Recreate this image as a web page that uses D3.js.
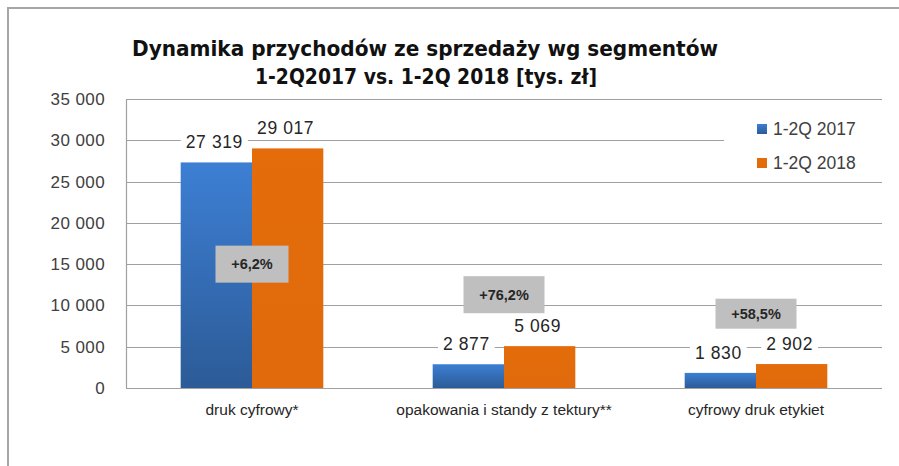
<html>
<head>
<script src="https://cdn.jsdelivr.net/npm/d3@7"></script>
<style>
  body { margin: 0; background: #fff; }
  text { font-family: "Liberation Sans", Arial, sans-serif; }
</style>
</head>
<body>
<div id="chart"></div>
<script>
var categories = ["druk cyfrowy*", "opakowania i standy z tektury**", "cyfrowy druk etykiet"];
var series = ["1-2Q 2017", "1-2Q 2018"];
var values2017 = [27319, 2877, 1830];
var values2018 = [29017, 5069, 2902];
var growth = ["+6,2%", "+76,2%", "+58,5%"];
// where each growth box sits (value on the y axis)
var growthAt = [15000, 11300, 9000];
var yTicks = [0, 5000, 10000, 15000, 20000, 25000, 30000, 35000];

var W = 899, H = 466;
var margin = {left: 126, right: 17, top: 99, bottom: 78};

var svg = d3.select("#chart").append("svg")
  .attr("width", W).attr("height", H);

// frame of the chart (top and left edges only show)
svg.append("path")
  .attr("d", "M8,470 L8,8 L905,8")
  .attr("fill", "none").attr("stroke", "#a6a6a6").attr("stroke-width", 2);

var defs = svg.append("defs");
var gBlue = defs.append("linearGradient").attr("id", "gblue")
  .attr("x1", 0).attr("y1", 0).attr("x2", 0).attr("y2", 1);
gBlue.append("stop").attr("offset", "0%").attr("stop-color", "#3d7fd4");
gBlue.append("stop").attr("offset", "100%").attr("stop-color", "#2c5b97");
var gOrange = defs.append("linearGradient").attr("id", "gorange")
  .attr("x1", 0).attr("y1", 0).attr("x2", 0).attr("y2", 1);
gOrange.append("stop").attr("offset", "0%").attr("stop-color", "#e46c0a");
gOrange.append("stop").attr("offset", "100%").attr("stop-color", "#e06a0c");

var x0 = d3.scaleBand().domain(categories)
  .range([margin.left, W - margin.right]).paddingInner(0.434).paddingOuter(0.217);
var x1 = d3.scaleBand().domain(series).range([0, x0.bandwidth()]);
var y = d3.scaleLinear().domain([0, 35000]).range([H - margin.bottom, margin.top]);

var fmt = function (v) { return d3.format(",")(v).replace(/,/g, " "); };

// gridlines
svg.append("g").selectAll("line").data(yTicks).enter().append("line")
  .attr("x1", margin.left).attr("x2", W - margin.right)
  .attr("y1", function (d) { return Math.round(y(d)) + 0.5; })
  .attr("y2", function (d) { return Math.round(y(d)) + 0.5; })
  .attr("stroke", "#a0a0a0").attr("stroke-width", 1.2);
svg.append("line")
  .attr("x1", margin.left + 0.5).attr("x2", margin.left + 0.5)
  .attr("y1", y(35000)).attr("y2", y(0))
  .attr("stroke", "#a0a0a0").attr("stroke-width", 1.2);

// y axis labels
var yAxis = d3.axisLeft(y).tickValues(yTicks).tickSize(0).tickPadding(21).tickFormat(fmt);
var ya = svg.append("g").attr("transform", "translate(" + margin.left + ",0)").call(yAxis);
ya.select(".domain").remove();
ya.selectAll("text").attr("font-size", 17).attr("fill", "#404040")
  .style("letter-spacing", "0.4px")
  .style("font-family", "Liberation Sans, Arial, sans-serif");

// x axis labels
var xAxis = d3.axisBottom(x0).tickSize(0).tickPadding(16);
var xa = svg.append("g").attr("transform", "translate(0," + y(0) + ")").call(xAxis);
xa.select(".domain").remove();
xa.selectAll("text").attr("font-size", 15.5).attr("fill", "#262626")
  .style("font-family", "Liberation Sans, Arial, sans-serif");

var rows = categories.map(function (c, i) {
  return [{c: c, s: series[0], v: values2017[i]}, {c: c, s: series[1], v: values2018[i]}];
});

var groups = svg.append("g").selectAll("g").data(rows).enter().append("g")
  .attr("transform", function (d) { return "translate(" + x0(d[0].c) + ",0)"; });

groups.selectAll("rect").data(function (d) { return d; }).enter().append("rect")
  .attr("x", function (d) { return x1(d.s); })
  .attr("width", x1.bandwidth())
  .attr("y", function (d) { return y(d.v); })
  .attr("height", function (d) { return y(0) - y(d.v); })
  .attr("fill", function (d, i) { return i === 0 ? "url(#gblue)" : "url(#gorange)"; });

// value labels with white backing
groups.selectAll("g.lab").data(function (d) { return d; }).enter().append("g")
  .attr("class", "lab")
  .each(function (d) {
    var g = d3.select(this);
    var cx = x1(d.s) + x1.bandwidth() / 2;
    var t = g.append("text").attr("x", cx - 2).attr("y", y(d.v) - 14)
      .attr("text-anchor", "middle").attr("font-size", 17.5).attr("fill", "#262626")
      .style("letter-spacing", "0.6px")
      .text(fmt(d.v));
    var bb = t.node().getBBox();
    g.insert("rect", "text").attr("x", bb.x - 5).attr("y", bb.y)
      .attr("width", bb.width + 10).attr("height", bb.height).attr("fill", "#fff");
  });

// growth boxes
var boxW = [73, 81, 81], boxH = [37, 37, 30];
categories.forEach(function (c, i) {
  var cx = x0(c) + x0.bandwidth() / 2;
  var cy = y(growthAt[i]);
  svg.append("rect").attr("x", cx - boxW[i] / 2).attr("y", cy - boxH[i] / 2)
    .attr("width", boxW[i]).attr("height", boxH[i]).attr("fill", "#bfbfbf");
  svg.append("text").attr("x", cx).attr("y", cy + 5)
    .attr("text-anchor", "middle").attr("font-size", 14.5).attr("font-weight", "bold")
    .attr("fill", "#262626").text(growth[i]);
});

// legend
var legend = svg.append("g");
legend.append("rect").attr("x", 724).attr("y", 106).attr("width", 158).attr("height", 70).attr("fill", "#fff");
series.forEach(function (s, i) {
  var ly = 129 + i * 34;
  legend.append("rect").attr("x", 757).attr("y", ly - 5).attr("width", 10).attr("height", 10)
    .attr("fill", i === 0 ? "url(#gblue)" : "url(#gorange)");
  legend.append("text").attr("x", 773).attr("y", ly + 6).attr("font-size", 17.5)
    .attr("fill", "#404040").text(s);
});

// title
svg.append("text").attr("x", 425).attr("y", 56).attr("text-anchor", "middle")
  .attr("font-size", 21).attr("font-weight", "bold").attr("fill", "#111")
  .attr("textLength", 586).attr("lengthAdjust", "spacingAndGlyphs")
  .style("font-family", "DejaVu Sans, sans-serif")
  .text("Dynamika przychodów ze sprzedaży wg segmentów");
svg.append("text").attr("x", 426).attr("y", 84).attr("text-anchor", "middle")
  .attr("font-size", 21).attr("font-weight", "bold").attr("fill", "#111")
  .attr("textLength", 342).attr("lengthAdjust", "spacingAndGlyphs")
  .style("font-family", "DejaVu Sans, sans-serif")
  .text("1-2Q2017 vs. 1-2Q 2018 [tys. zł]");
</script>
</body>
</html>
